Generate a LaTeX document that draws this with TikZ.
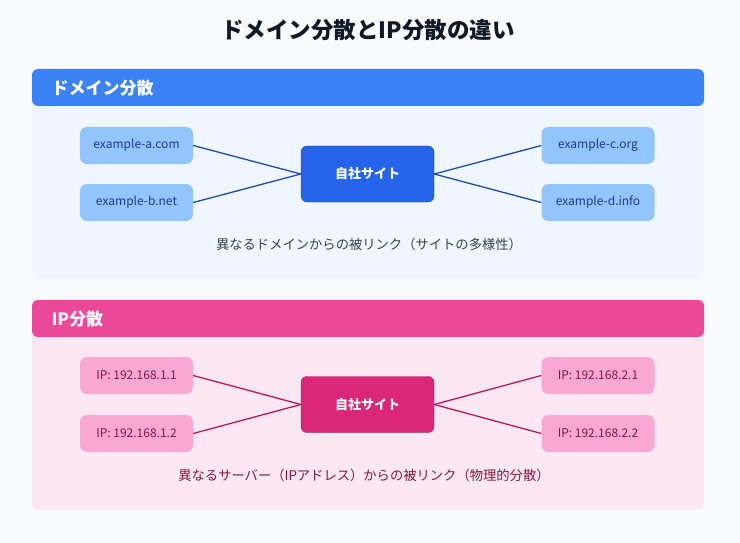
\documentclass[tikz,border=0pt]{standalone}
\usepackage{fontspec}
\setmainfont{Noto Sans CJK JP}
\begin{document}
\begin{tikzpicture}[x=1pt,y=-1pt,
  bpanel/.style={fill=#1,rounded corners=8pt,draw=none},
  hdr/.style={fill=#1,rounded corners=6pt,draw=none},
  leaf/.style={fill=#1,rounded corners=7pt,minimum width=113pt,minimum height=37pt,inner sep=0pt,font=\fontsize{12}{14}\selectfont},
  hub/.style={fill=#1,draw=#1!70!black,line width=0.4pt,rounded corners=6pt,minimum width=133pt,minimum height=56pt,inner sep=0pt,text=white,font=\fontsize{13}{15}\selectfont\bfseries},
  link/.style={draw=#1,line width=1.3pt}]
\definecolor{bgc}{HTML}{F8FAFC}
\definecolor{bluehdr}{HTML}{3B82F6}
\definecolor{bluebody}{HTML}{EFF6FF}
\definecolor{blueleaf}{HTML}{93C5FD}
\definecolor{bluehub}{HTML}{2563EB}
\definecolor{bluetext}{HTML}{1E3A8A}
\definecolor{blueline}{HTML}{1E4BB0}
\definecolor{pinkhdr}{HTML}{EC4899}
\definecolor{pinkbody}{HTML}{FCE7F3}
\definecolor{pinkleaf}{HTML}{F9A8D4}
\definecolor{pinkhub}{HTML}{DB2777}
\definecolor{pinktext}{HTML}{831843}
\definecolor{pinkline}{HTML}{BE185D}
\definecolor{titlec}{HTML}{111827}
\definecolor{capc}{HTML}{374151}
\fill[bgc] (0,0) rectangle (740,543);
\useasboundingbox (0,0) rectangle (740,543);
\node[font=\fontsize{22.5}{26}\selectfont\bfseries,text=titlec] (title) at (368,30) {ドメイン分散とIP分散の違い};
% Section 1
\fill[bpanel=bluebody] (32,69) rectangle (704,279);
\fill[hdr=bluehdr] (32,69) rectangle (704,106);
\node[anchor=west,text=white,font=\fontsize{17}{20}\selectfont\bfseries] (h1) at (48,88) {ドメイン分散};
\node[leaf=blueleaf,text=bluetext] (a) at (136.5,145.5) {example-a.com};
\node[leaf=blueleaf,text=bluetext] (b) at (136.5,202.5) {example-b.net};
\node[leaf=blueleaf,text=bluetext] (c) at (598,145.5) {example-c.org};
\node[leaf=blueleaf,text=bluetext] (d) at (598,202.5) {example-d.info};
\node[hub=bluehub] (s1) at (367.5,174) {自社サイト};
\draw[link=blueline] (a.east) -- (s1.west);
\draw[link=blueline] (b.east) -- (s1.west);
\draw[link=blueline] (s1.east) -- (c.west);
\draw[link=blueline] (s1.east) -- (d.west);
\node[text=capc,font=\fontsize{13.3}{16}\selectfont] (cap1) at (369,244) {異なるドメインからの被リンク（サイトの多様性）};
% Section 2
\fill[bpanel=pinkbody] (32,300) rectangle (704,510);
\fill[hdr=pinkhdr] (32,300) rectangle (704,337);
\node[anchor=west,text=white,font=\fontsize{17}{20}\selectfont\bfseries] (h2) at (48,319) {IP分散};
\node[leaf=pinkleaf,text=pinktext] (p1) at (136.5,375.5) {IP: 192.168.1.1};
\node[leaf=pinkleaf,text=pinktext] (p2) at (136.5,433.5) {IP: 192.168.1.2};
\node[leaf=pinkleaf,text=pinktext] (p3) at (598,375.5) {IP: 192.168.2.1};
\node[leaf=pinkleaf,text=pinktext] (p4) at (598,433.5) {IP: 192.168.2.2};
\node[hub=pinkhub] (s2) at (367.5,404.5) {自社サイト};
\draw[link=pinkline] (p1.east) -- (s2.west);
\draw[link=pinkline] (p2.east) -- (s2.west);
\draw[link=pinkline] (s2.east) -- (p3.west);
\draw[link=pinkline] (s2.east) -- (p4.west);
\node[text=pinktext,font=\fontsize{13.3}{16}\selectfont] (cap2) at (364,475) {異なるサーバー（IPアドレス）からの被リンク（物理的分散）};
\end{tikzpicture}
\end{document}
